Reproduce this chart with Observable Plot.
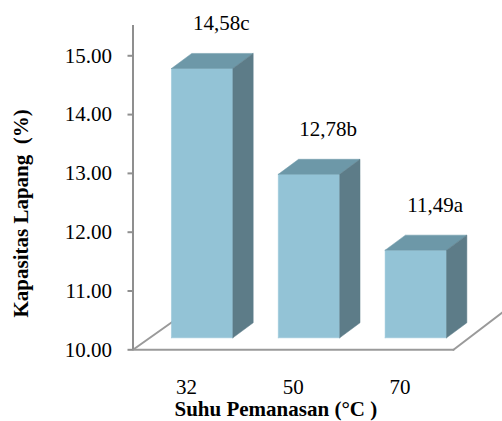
<!DOCTYPE html>
<html>
<head>
<meta charset="utf-8">
<script src="https://cdn.jsdelivr.net/npm/d3@7"></script>
<script src="https://cdn.jsdelivr.net/npm/@observablehq/plot@0.6"></script>
<style>
  html, body { margin: 0; padding: 0; background: #fff; }
  svg { display: block; }
</style>
</head>
<body>
<div id="chart"></div>
<script>
// Field capacity by heating temperature
const categories = ["32", "50", "70"];
const values = [14.58, 12.78, 11.49];
const valueLabels = ["14,58c", "12,78b", "11,49a"];
const yTicks = [10, 11, 12, 13, 14, 15];

// Oblique projection, in data units of the x and y scales
const depthX = 0.19;
const depthY = 0.256;
const lift = 0.204;     // front plane of the bars sits above the axis floor
const barStart = 0.36;  // bar offset inside its slot
const barSize = 0.575;

const bars = categories.map((c, i) => {
  const l = i + barStart, r = l + barSize;
  return { c, l, r, bottom: 10 + lift, top: values[i] + lift, label: valueLabels[i] };
});

const face = (name, corners) => (b) =>
  corners(b).map(([x, y]) => ({ key: b.c + name, x, y }));

const frontFace = bars.flatMap(face("front", (b) => [
  [b.l, b.bottom], [b.r, b.bottom], [b.r, b.top], [b.l, b.top], [b.l, b.bottom]
]));
const topFace = bars.flatMap(face("top", (b) => [
  [b.l, b.top], [b.r, b.top], [b.r + depthX, b.top + depthY], [b.l + depthX, b.top + depthY], [b.l, b.top]
]));
const sideFace = bars.flatMap(face("side", (b) => [
  [b.r, b.bottom], [b.r + depthX, b.bottom + depthY], [b.r + depthX, b.top + depthY], [b.r, b.top], [b.r, b.bottom]
]));

// Floor edges: front rail, its two receding sides
const floorEdges = [
  { key: "left", x: 0, y: 10 }, { key: "left", x: barStart + 0.02, y: 10 + 0.49 },
  { key: "front", x: 0, y: 10 }, { key: "front", x: 3, y: 10 },
  { key: "right", x: 3, y: 10 }, { key: "right", x: 3.46, y: 10.64 }
];

const serif = "'Liberation Serif', 'Times New Roman', serif";
const polygon = (data, fill) =>
  Plot.line(data, { x: "x", y: "y", z: "key", fill, stroke: fill, strokeWidth: 0.5, curve: "linear" });

const chart = Plot.plot({
  width: 502,
  height: 421,
  marginTop: 0, marginRight: 0, marginBottom: 0, marginLeft: 0,
  style: { fontFamily: serif, background: "#fff", color: "#000" },
  x: { type: "linear", domain: [0, 3], range: [132.5, 453], axis: null },
  y: { type: "linear", domain: [10, 15.515], range: [349.3, 25], axis: null },
  marks: [
    Plot.line(floorEdges, { x: "x", y: "y", z: "key", stroke: "#9a9a9a", strokeWidth: 2 }),
    Plot.ruleX([0], { y1: 10, y2: 15.515, stroke: "#8f8f8f", strokeWidth: 2 }),
    Plot.axisY({
      anchor: "left", ticks: yTicks, tickSize: 5, tickPadding: 16, x: 0,
      tickFormat: (d) => d.toFixed(2), label: null,
      stroke: "#8f8f8f", strokeWidth: 2, fill: "#000", fontSize: 21, fontFamily: serif
    }),
    polygon(frontFace, "#93c3d6"),
    polygon(topFace, "#6d98a8"),
    polygon(sideFace, "#5d7c88"),
    Plot.text(bars, {
      x: (b) => (b.l + b.r + depthX) / 2 + 0.085,
      y: (b) => b.top + 0.77,
      text: "label", fontSize: 21, fill: "#000"
    }),
    Plot.axisX({
      anchor: "bottom", ticks: [0.5, 1.5, 2.5], y: 10, tickSize: 0, tickPadding: 29,
      tickFormat: (d) => categories[Math.floor(d)], label: null,
      fill: "#000", fontSize: 21, fontFamily: serif
    }),
    Plot.text(["Suhu Pemanasan (°C )"], {
      frameAnchor: "top-left", dx: 174, dy: 401, text: (d) => d,
      fontSize: 21, fontWeight: "bold", fill: "#000"
    }),
    Plot.text(["Kapasitas Lapang  (%)"], {
      frameAnchor: "top-left", dx: 13, dy: 317, rotate: -90, text: (d) => d,
      fontSize: 21, fontWeight: "bold", fill: "#000"
    })
  ]
});
document.getElementById("chart").append(chart);
</script>
</body>
</html>
